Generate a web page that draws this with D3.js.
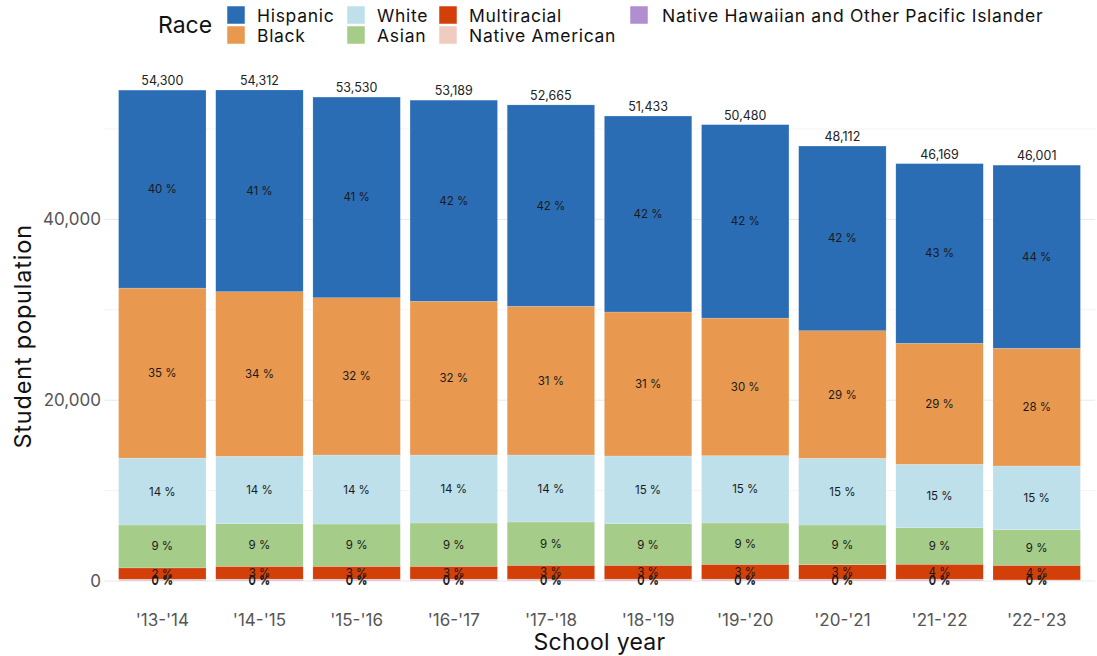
<!DOCTYPE html>
<html>
<head>
<meta charset="utf-8">
<script src="https://cdn.jsdelivr.net/npm/d3@7"></script>
<style>
html,body{margin:0;padding:0;background:#fff;}
svg{display:block;font-family:"Inter","Open Sans",sans-serif;}
</style>
</head>
<body>
<svg id="chart" width="1097" height="656"></svg>
<script>
const years = ["'13-'14","'14-'15","'15-'16","'16-'17","'17-'18","'18-'19","'19-'20","'20-'21","'21-'22","'22-'23"];
const races = ["Hispanic","Black","White","Asian","Multiracial","Native American","Native Hawaiian and Other Pacific Islander"];
const colors = ["#2b6db4","#e8994f","#bde0eb","#a5cc89","#d33f08","#efcbc0","#b18ed0"];
const hispanic = [21900,22310,22200,22249,22277,21676,21400,20430,19875,20260];
const black    = [18800,18208,17392,17002,16450,15930,15219,14109,13385,13020];
const white    = [7400,7456,7633,7522,7411,7489,7445,7378,7013,7046];
const asian    = [4750,4712,4679,4790,4790,4601,4569,4392,4039,3938];
const multiracial = [1250,1420,1420,1420,1530,1530,1640,1596,1650,1620];
const nativeAmerican = [120,120,120,120,120,120,120,120,120,75];
const nativeHawaiian = [80,86,86,86,87,87,87,87,87,42];
const totals = [54300,54312,53530,53189,52665,51433,50480,48112,46169,46001];
const yTicks = [0,20000,40000];
const yMinor = [10000,30000,50000];

const series = [hispanic,black,white,asian,multiracial,nativeAmerican,nativeHawaiian];
const rows = years.map((yr,i)=>{
  const o = {year:yr};
  races.forEach((r,k)=>o[r]=series[k][i]);
  return o;
});

const svg = d3.select("#chart");
const pL = 104, pR = 1095, pT = 65.7, pB = 581;
const x = d3.scaleBand().domain(years).range([pL,pR]).paddingInner(0.1).paddingOuter(0.15);
const y = d3.scaleLinear().domain([0,57000]).range([pB,pT]);

// grid
svg.append("g").selectAll("line").data(yMinor).join("line")
  .attr("x1",pL).attr("x2",pR).attr("y1",d=>y(d)).attr("y2",d=>y(d))
  .attr("stroke","#f3f3f3").attr("stroke-width",1);
svg.append("g").selectAll("line").data(yTicks).join("line")
  .attr("x1",pL).attr("x2",pR).attr("y1",d=>y(d)).attr("y2",d=>y(d))
  .attr("stroke","#e8e8e8").attr("stroke-width",1);

// stack: bottom-most is last race
const stackOrder = races.slice().reverse();
const stacked = d3.stack().keys(stackOrder)(rows);
const colorOf = r => colors[races.indexOf(r)];

const gBars = svg.append("g");
stacked.forEach(layer=>{
  gBars.append("g").selectAll("rect").data(layer).join("rect")
    .attr("x",d=>x(d.data.year))
    .attr("width",x.bandwidth())
    .attr("y",d=>y(d[1]))
    .attr("height",d=>y(d[0])-y(d[1]))
    .attr("fill",colorOf(layer.key))
    .attr("stroke","rgba(255,255,255,0.35)").attr("stroke-width",0.5);
});

// percent labels
const gLab = svg.append("g");
stacked.forEach(layer=>{
  gLab.append("g").selectAll("text").data(layer).join("text")
    .attr("x",d=>x(d.data.year)+x.bandwidth()/2)
    .attr("y",d=>y((d[0]+d[1])/2))
    .attr("dy","0.35em")
    .attr("text-anchor","middle")
    .attr("font-size",11.5)
    .attr("fill","#1a1a1a")
    .text((d,i)=>Math.round(100*(d[1]-d[0])/totals[i]) + " %");
});

// totals
svg.append("g").selectAll("text").data(years).join("text")
  .attr("x",d=>x(d)+x.bandwidth()/2)
  .attr("y",(d,i)=>y(totals[i])-5)
  .attr("text-anchor","middle")
  .attr("font-size",12.5)
  .attr("fill","#222")
  .text((d,i)=>d3.format(",")(totals[i]));

// y axis labels
svg.append("g").selectAll("text").data(yTicks).join("text")
  .attr("x",pL-3).attr("y",d=>y(d)).attr("dy","0.35em")
  .attr("text-anchor","end").attr("font-size",17).attr("fill","#555")
  .text(d=>d3.format(",")(d));

// x axis labels
svg.append("g").selectAll("text").data(years).join("text")
  .attr("x",d=>x(d)+x.bandwidth()/2).attr("y",626)
  .attr("text-anchor","middle").attr("font-size",17).attr("fill","#555")
  .text(d=>d);

// axis titles
svg.append("text").attr("x",(pL+pR)/2).attr("y",650)
  .attr("text-anchor","middle").attr("font-size",23).attr("letter-spacing",0.3).attr("fill","#111")
  .text("School year");
svg.append("text").attr("transform",`translate(31,${(pT+pB)/2+13}) rotate(-90)`)
  .attr("text-anchor","middle").attr("font-size",23.5).attr("letter-spacing",0.8).attr("fill","#111")
  .text("Student population");

// legend
const lg = svg.append("g");
lg.append("text").attr("x",158).attr("y",33).attr("font-size",23).attr("fill","#111").text("Race");
const keyX = [227,347,439,630];
const labX = [257,377,469,662];
races.forEach((r,k)=>{
  const col = Math.floor(k/2), row = k%2;
  lg.append("rect").attr("x",keyX[col]).attr("y",6+row*20).attr("width",18).attr("height",18)
    .attr("fill",colors[k]).attr("stroke","#fff").attr("stroke-width",0.5);
  lg.append("text").attr("x",labX[col]).attr("y",22+row*20).attr("font-size",17.5)
    .attr("letter-spacing",0.7).attr("fill","#111").text(r);
});
</script>
</body>
</html>
